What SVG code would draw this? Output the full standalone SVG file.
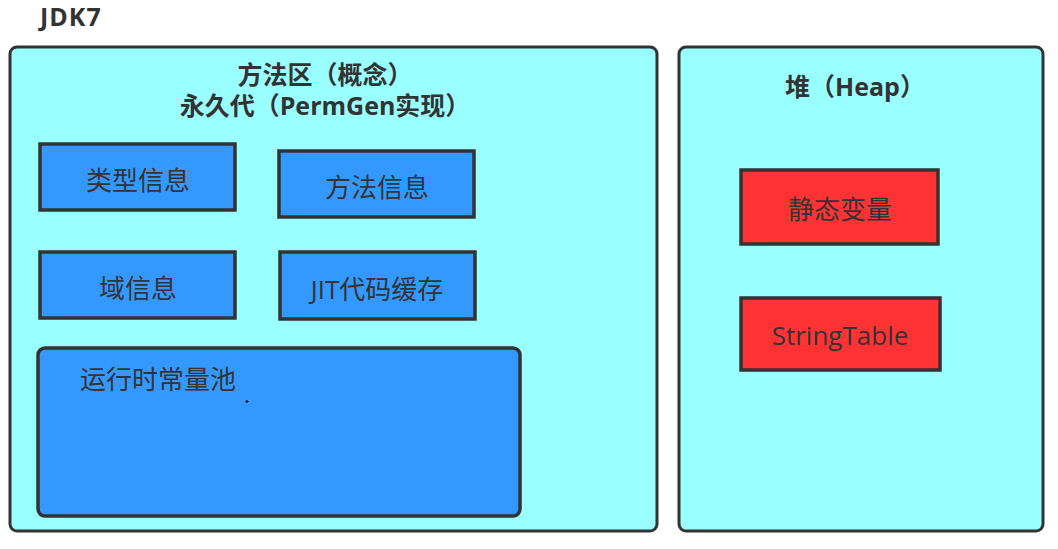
<svg xmlns="http://www.w3.org/2000/svg" width="1058" height="549" viewBox="0 0 1058 549">
<style>
text{font-family:"Open Sans","Noto Sans CJK SC",sans-serif;fill:#333;}
.t{font-size:25px;font-weight:bold;text-anchor:middle;}
.l{font-size:26px;text-anchor:middle;}
.cont{fill:#99FFFF;stroke:#333;stroke-width:3;}
.blue{fill:#3399FF;stroke:#333;stroke-width:3.5;}
.red{fill:#FF3333;stroke:#333;stroke-width:3.5;}
</style>
<rect width="1058" height="549" fill="#fff"/>
<text x="40" y="26" style="font-size:25px;font-weight:bold;letter-spacing:1px;">JDK7</text>
<g id="method-area">
<rect class="cont" x="10" y="47" width="647" height="484" rx="7"/>
<text class="t" x="325" y="84">方法区（概念）</text>
<text class="t" x="325" y="115">永久代（PermGen实现）</text>
</g>
<g id="type-info"><rect class="blue" x="40" y="144" width="195" height="66"/><text class="l" x="138" y="190">类型信息</text></g>
<g id="method-info"><rect class="blue" x="279" y="151" width="195" height="66"/><text class="l" x="377" y="197">方法信息</text></g>
<g id="field-info"><rect class="blue" x="40" y="252" width="195" height="66"/><text class="l" x="138" y="298">域信息</text></g>
<g id="jit-cache"><rect class="blue" x="280" y="252" width="195" height="67"/><text class="l" x="377" y="299">JIT代码缓存</text></g>
<g id="runtime-pool"><rect class="blue" x="38" y="348" width="482" height="168" rx="7"/><text x="80" y="389" style="font-size:26px;">运行时常量池</text><path d="M245.5 401.5h3M247 400v3" stroke="#000" stroke-width="1"/></g>
<g id="heap">
<rect class="cont" x="679" y="47" width="364" height="484" rx="7"/>
<text class="t" x="855" y="96">堆（Heap）</text>
</g>
<g id="static-vars"><rect class="red" x="741" y="170" width="197" height="74"/><text class="l" x="840" y="219">静态变量</text></g>
<g id="string-table"><rect class="red" x="741" y="298" width="199" height="72"/><text class="l" x="840" y="345">StringTable</text></g>
<g id="connectors"/>
</svg>
